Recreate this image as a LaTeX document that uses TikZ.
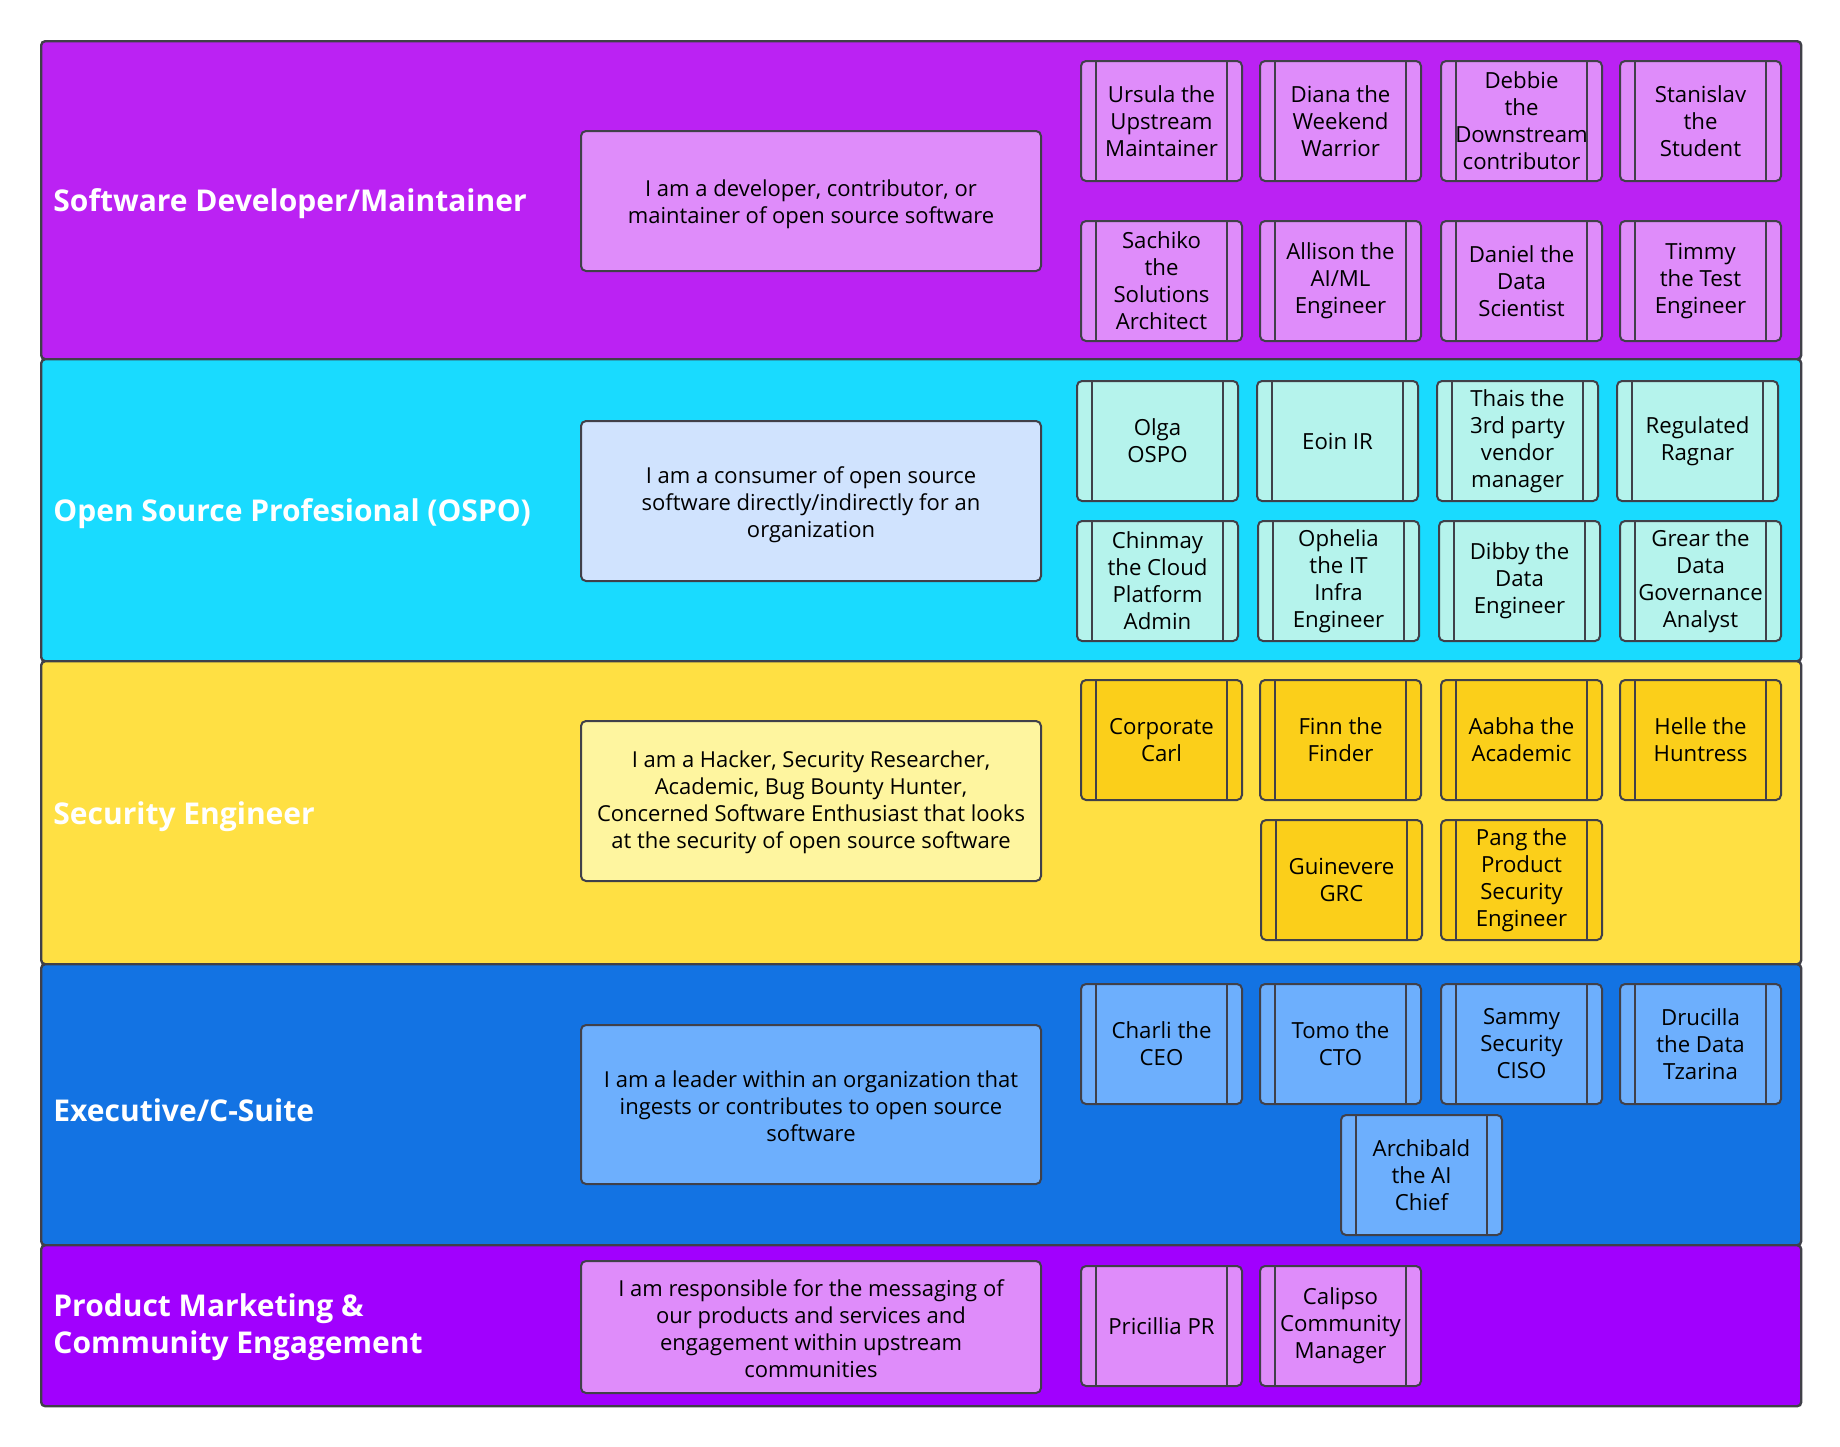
\documentclass[tikz,border=0pt]{standalone}
\usepackage{fontspec}
\setmainfont{Open Sans}
\definecolor{edge}{HTML}{404049}
\definecolor{devlane}{HTML}{BB22F3}
\definecolor{devbox}{HTML}{DF8CFA}
\definecolor{osplane}{HTML}{19DBFF}
\definecolor{ospdesc}{HTML}{D0E3FE}
\definecolor{ospbox}{HTML}{B5F3EC}
\definecolor{seclane}{HTML}{FFE043}
\definecolor{secdesc}{HTML}{FEF59F}
\definecolor{secbox}{HTML}{FBCF1A}
\definecolor{exelane}{HTML}{1373E3}
\definecolor{exebox}{HTML}{6DAFFD}
\definecolor{mktlane}{HTML}{A100FE}
\definecolor{mktbox}{HTML}{DF8CFA}
\tikzset{
  lane/.style={draw=edge, line width=1.2pt, rounded corners=2pt, anchor=north west,
    minimum width=880pt, inner sep=0pt},
  lanetitle/.style={anchor=west, text=white, align=left, inner sep=0pt,
    font=\fontsize{15}{18.5}\selectfont\bfseries},
  descbox/.style={draw=edge, line width=1pt, rounded corners=2.5pt, anchor=north west,
    minimum width=230pt, align=center, inner sep=0pt,
    font=\fontsize{11}{13.5}\selectfont},
  pbox/.style={draw=edge, line width=1pt, rounded corners=2.5pt, anchor=north west,
    minimum width=80.5pt, minimum height=60pt, align=center, inner sep=0pt,
    font=\fontsize{11.1}{13.5}\selectfont},
  pbar/.style={draw=edge, line width=1pt},
}
% a persona card: name, x, y, fill, text
\newcommand\personabox[5]{%
  \node[pbox, fill=#4] (#1) at (#2,#3) {#5};
  \draw[pbar] ([xshift=8pt]#1.north west) -- ([xshift=8pt]#1.south west)
              ([xshift=-8pt]#1.north east) -- ([xshift=-8pt]#1.south east);
}
% strut that lowers a centred text block a little
\newcommand\topstrut[1]{\rule{0pt}{#1}}
\begin{document}
\begin{tikzpicture}[x=0.5pt, y=-0.5pt]
\useasboundingbox[fill=white] (0,0) rectangle (1840,1446);

% swimlanes
\node[lane, fill=devlane, minimum height=159pt] (l1) at (40,40) {};
\node[lane, fill=osplane, minimum height=151pt] (l2) at (40,358) {};
\node[lane, fill=seclane, minimum height=151.5pt] (l3) at (40,660) {};
\node[lane, fill=exelane, minimum height=140.5pt] (l4) at (40,963) {};
\node[lane, fill=mktlane, minimum height=80.5pt] (l5) at (40,1244) {};

% lane titles
\node[lanetitle] (t1) at (53,204) {Software Developer/Maintainer};
\node[lanetitle] (t2) at (53,514) {Open Source Profesional (OSPO)};
\node[lanetitle] (t3) at (53,817) {Security Engineer};
\node[lanetitle] (t4) at (53,1110) {Executive/C-Suite};
\node[lanetitle] (t5) at (53,1327) {Product Marketing \&\\Community Engagement};

% descriptions
\node[descbox, fill=devbox, minimum height=70pt] (d1) at (580,130)
  {\topstrut{12pt}I am a developer, contributor, or\\maintainer of open source software};
\node[descbox, fill=ospdesc, minimum height=80pt] (d2) at (580,420)
  {\topstrut{12pt}I am a consumer of open source\\software directly/indirectly for an\\organization};
\node[descbox, fill=secdesc, minimum height=80pt] (d3) at (580,720)
  {\topstrut{10pt}I am a Hacker, Security Researcher,\\Academic, Bug Bounty Hunter,\\Concerned Software Enthusiast that looks\\at the security of open source software};
\node[descbox, fill=exebox, minimum height=79.5pt] (d4) at (580,1024)
  {\topstrut{10pt}I am a leader within an organization that\\ingests or contributes to open source\\software};
\node[descbox, fill=mktbox, minimum height=66pt] (d5) at (580,1260)
  {\topstrut{10.5pt}I am responsible for the messaging of\\our products and services and\\engagement within upstream\\communities};

% software developer personas
\personabox{ursula}{1080}{60}{devbox}{Ursula the\\Upstream\\Maintainer}
\personabox{diana}{1259}{60}{devbox}{Diana the\\Weekend\\Warrior}
\personabox{debbie}{1440}{60}{devbox}{Debbie\\the\\Downstream\\contributor}
\personabox{stanislav}{1619}{60}{devbox}{Stanislav\\the\\Student}
\personabox{sachiko}{1080}{220}{devbox}{Sachiko\\the\\Solutions\\Architect}
\personabox{allison}{1259}{220}{devbox}{Allison the\\AI/ML\\Engineer}
\personabox{daniel}{1440}{220}{devbox}{Daniel the\\Data\\Scientist}
\personabox{timmy}{1619}{220}{devbox}{Timmy\\the Test\\Engineer}

% open source professional personas
\personabox{olga}{1076}{380}{ospbox}{Olga\\OSPO}
\personabox{eoin}{1256}{380}{ospbox}{Eoin IR}
\personabox{thais}{1436}{380}{ospbox}{Thais the\\3rd party\\vendor\\manager}
\personabox{ragnar}{1616}{380}{ospbox}{Regulated\\Ragnar}
\personabox{chinmay}{1076}{520}{ospbox}{Chinmay\\the Cloud\\Platform\\Admin}
\personabox{ophelia}{1257}{520}{ospbox}{Ophelia\\the IT\\Infra\\Engineer}
\personabox{dibby}{1438}{520}{ospbox}{Dibby the\\Data\\Engineer}
\personabox{grear}{1619}{520}{ospbox}{Grear the\\Data\\Governance\\Analyst}

% security engineer personas
\personabox{carl}{1080}{679}{secbox}{Corporate\\Carl}
\personabox{finn}{1259}{679}{secbox}{Finn the\\Finder}
\personabox{aabha}{1440}{679}{secbox}{Aabha the\\Academic}
\personabox{helle}{1619}{679}{secbox}{Helle the\\Huntress}
\personabox{guinevere}{1260}{819}{secbox}{Guinevere\\GRC}
\personabox{pang}{1440}{819}{secbox}{Pang the\\Product\\Security\\Engineer}

% executive personas
\personabox{charli}{1080}{983}{exebox}{Charli the\\CEO}
\personabox{tomo}{1259}{983}{exebox}{Tomo the\\CTO}
\personabox{sammy}{1440}{983}{exebox}{Sammy\\Security\\CISO}
\personabox{drucilla}{1619}{983}{exebox}{Drucilla\\the Data\\Tzarina}
\personabox{archibald}{1340}{1114}{exebox}{Archibald\\the AI\\Chief}

% marketing personas
\personabox{pricillia}{1080}{1265}{mktbox}{Pricillia PR}
\personabox{calipso}{1259}{1265}{mktbox}{Calipso\\Community\\Manager}
\end{tikzpicture}
\end{document}
